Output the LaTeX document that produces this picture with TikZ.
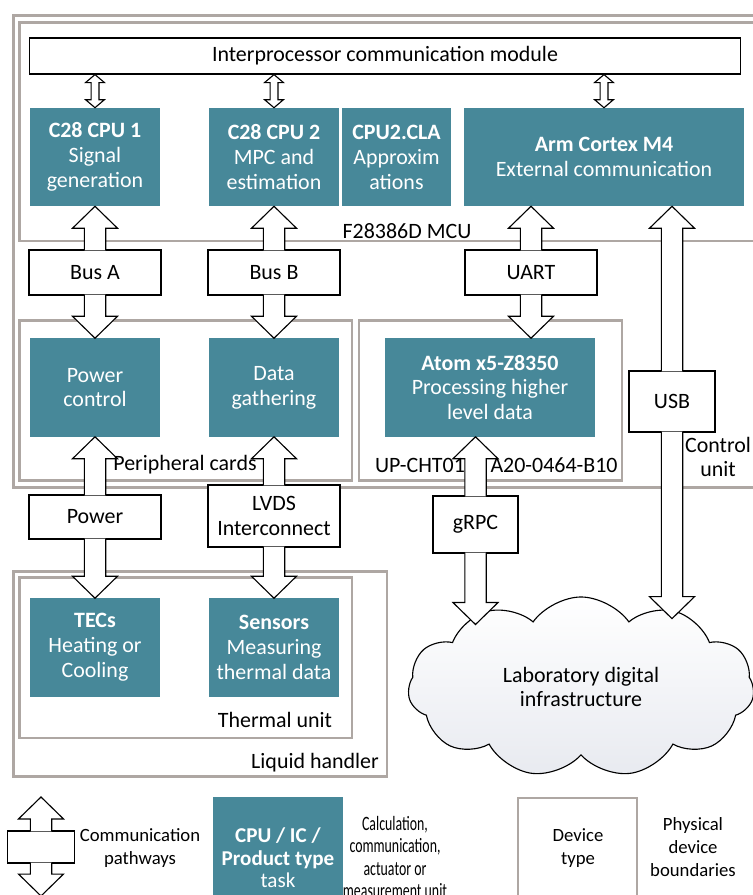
\documentclass[tikz,border=0pt]{standalone}
\usepackage{fontspec}
\setmainfont{Carlito}
\newfontfamily\narrowfont[FakeStretch=0.68]{Carlito}
\usetikzlibrary{calc, shapes.symbols}
\definecolor{unitteal}{RGB}{71,136,153}
\definecolor{bound}{RGB}{174,167,163}
\definecolor{cloudgray}{RGB}{232,234,240}

\begin{document}
\begin{tikzpicture}[x=0.025cm, y=-0.025cm,
 font=\fontsize{15.6}{17.7}\selectfont,
 unit/.style={fill=unitteal, text=white, align=center, inner sep=0pt, minimum width=3.25cm, minimum height=2.45cm},
 lbl/.style={draw, fill=white, line width=0.8pt, align=center, inner sep=0pt, minimum width=3.3cm, minimum height=1.125cm},
 boundary/.style={draw=bound, line width=2.1pt},
 legtext/.style={font=\fontsize{13.3}{16.3}\selectfont, align=center},
 pipe/.style={draw, fill=white, line width=0.8pt, to path={
   ($($(\tikztostart)!-0.6pt!(\tikztotarget)$)!7.6pt!90:(\tikztotarget)$)
   -- ($($(\tikztotarget)!15.6pt!(\tikztostart)$)!7.6pt!90:(\tikztotarget)$)
   -- ($($(\tikztotarget)!15.6pt!(\tikztostart)$)!16pt!90:(\tikztotarget)$)
   -- (\tikztotarget)
   -- ($($(\tikztotarget)!15.6pt!(\tikztostart)$)!16pt!-90:(\tikztotarget)$)
   -- ($($(\tikztotarget)!15.6pt!(\tikztostart)$)!7.6pt!-90:(\tikztotarget)$)
   -- ($($(\tikztostart)!-0.6pt!(\tikztotarget)$)!7.6pt!-90:(\tikztotarget)$)}},
 dpipe/.style={draw, fill=white, line width=0.8pt, to path={
   -- ($($(\tikztostart)!5.7pt!(\tikztotarget)$)!6.7pt!90:(\tikztotarget)$)
   -- ($($(\tikztostart)!5.7pt!(\tikztotarget)$)!2.8pt!90:(\tikztotarget)$)
   -- ($($(\tikztotarget)!5.7pt!(\tikztostart)$)!2.8pt!90:(\tikztotarget)$)
   -- ($($(\tikztotarget)!5.7pt!(\tikztostart)$)!6.7pt!90:(\tikztotarget)$)
   -- (\tikztotarget)
   -- ($($(\tikztotarget)!5.7pt!(\tikztostart)$)!6.7pt!-90:(\tikztotarget)$)
   -- ($($(\tikztotarget)!5.7pt!(\tikztostart)$)!2.8pt!-90:(\tikztotarget)$)
   -- ($($(\tikztostart)!5.7pt!(\tikztotarget)$)!2.8pt!-90:(\tikztotarget)$)
   -- ($($(\tikztostart)!5.7pt!(\tikztotarget)$)!6.7pt!-90:(\tikztotarget)$)
   -- cycle}}]
\useasboundingbox (0,0) rectangle (752,895);
\draw[boundary] (13.5,15.5) rectangle (770,487.5);
\draw[boundary] (19.5,22.5) rectangle (770,241);
\draw[boundary] (19.5,320.5) rectangle (352,480.5);
\draw[boundary] (359,320.5) rectangle (622,480.5);
\draw[boundary] (13.5,571.5) rectangle (387,776.5);
\draw[boundary] (19.5,577.5) rectangle (352,738);
\draw[boundary] (518,798) rectangle (637,905);
\node[draw, line width=0.8pt, minimum width=17.75cm, minimum height=0.9cm] (ipc) at (385,56) {Interprocessor communication module};
\node[unit] (cpu1) at (95,157) {\textbf{C28 CPU 1}\\Signal\\generation};
\node[unit] (cpu2) at (274,157) {\textbf{C28 CPU 2}\\MPC and\\estimation};
\node[unit, minimum width=2.725cm] (cla) at (396.5,157) {\textbf{CPU2.CLA}\\Approxim\\ations};
\node[unit, minimum width=7cm] (arm) at (604,157) {\textbf{Arm Cortex M4}\\External communication};
\node[unit] (pwr) at (95,387.5) {Power\\control};
\node[unit] (data) at (274,387.5) {Data\\gathering};
\node[unit, minimum width=5.25cm] (atom) at (490,387.5) {\textbf{Atom x5-Z8350}\\Processing higher\\level data};
\node[unit] (tec) at (95,647.5) {\textbf{TECs}\\Heating or\\Cooling};
\node[unit] (sens) at (274,647.5) {\textbf{Sensors}\\Measuring\\thermal data};
\node[cloud, cloud puffs=11, cloud puff arc=110, cloud ignores aspect, draw, line width=0.8pt, top color=white, bottom color=cloudgray, align=center, minimum width=8.65cm, minimum height=4.5cm] (lab) at (581,687) {Laboratory digital\\infrastructure};
\node[lbl] (busa) at (95,272.5) {Bus A};
\node[lbl] (busb) at (274,272.5) {Bus B};
\node[lbl] (uart) at (531,272.5) {UART};
\node[lbl, minimum width=2.15cm, minimum height=1.525cm] (usb) at (672,401.5) {USB};
\node[lbl, minimum width=2.125cm, minimum height=1.425cm] (grpc) at (475.5,524.5) {gRPC};
\node[lbl, minimum height=1.1cm] (power) at (95,517) {Power};
\node[lbl, minimum height=1.55cm] (lvds) at (274,516) {LVDS\\Interconnect};
\draw[dpipe] (ipc.south -| cpu1) to (cpu1.north);
\draw[dpipe] (ipc.south -| cpu2) to (cpu2.north);
\draw[dpipe] (ipc.south -| arm) to (arm.north);
\draw[pipe] (busa.north) to (cpu1.south);
\draw[pipe] (busa.south) to (pwr.north);
\draw[pipe] (busb.north) to (cpu2.south);
\draw[pipe] (busb.south) to (data.north);
\draw[pipe] (uart.north) to (uart |- arm.south);
\draw[pipe] (uart.south) to (uart |- atom.north);
\draw[pipe] (usb.north) to (usb |- arm.south);
\draw[pipe] (usb.south) to (usb |- lab.56);
\draw[pipe] (grpc.north) to (grpc |- atom.south);
\draw[pipe] (grpc.south) to (grpc |- lab.152);
\draw[pipe] (power.north) to (pwr.south);
\draw[pipe] (power.south) to (tec.north);
\draw[pipe] (lvds.north) to (data.south);
\draw[pipe] (lvds.south) to (sens.north);
\node (mcutxt) at (407,231) {F28386D MCU};
\node (pctxt) at (185,465) {Peripheral cards};
\node (uptxt) at (420,465) {UP-CHT01};
\node (a20txt) at (554,465) {A20-0464-B10};
\node[align=center] (cutxt) at (718,457) {Control\\unit};
\node (thtxt) at (275,720) {Thermal unit};
\node (lhtxt) at (315,763) {Liquid handler};
\coordinate (legtop) at (41,797);
\coordinate (legbot) at (41,896);
\node[lbl, minimum width=1.675cm, minimum height=0.8cm] (legbox) at (41,847) {};
\draw[pipe] (legbox.north) to (legtop);
\draw[pipe] (legbox.south) to (legbot);
\node[legtext] (legpath) at (140,848) {Communication\\pathways};
\node[unit, font=\fontsize{15}{16}\selectfont, minimum height=3.05cm] (legunit) at (278,858) {\textbf{CPU / IC /}\\\textbf{Product type}\\task};
\node[legtext, font=\narrowfont\fontsize{14.5}{16}\selectfont] (legtask) at (395,857) {Calculation,\\communication,\\actuator or\\measurement unit};
\node[legtext] (legdev) at (578,848) {Device\\type};
\node[legtext] (legbnd) at (693,847) {Physical\\device\\boundaries};
\end{tikzpicture}
\end{document}
